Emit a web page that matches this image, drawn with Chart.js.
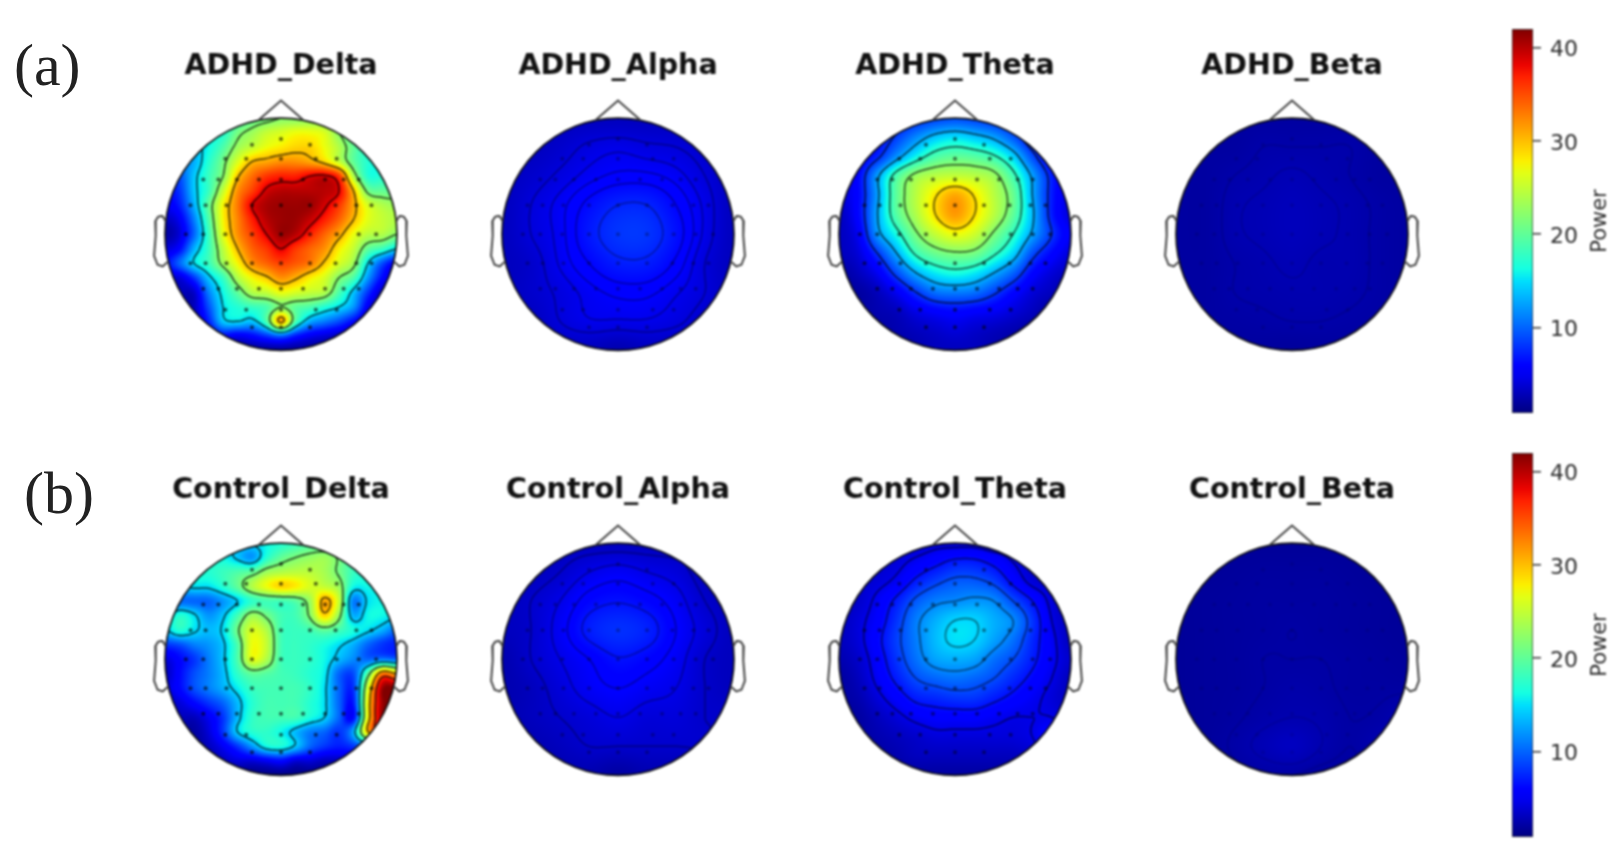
<!DOCTYPE html>
<html>
<head>
<meta charset="utf-8">
<title>Topographic maps</title>
<script src="https://cdn.jsdelivr.net/npm/chart.js@4"></script>
<style>
  html, body { margin: 0; padding: 0; background: #fff; overflow: hidden; }
  #page { position: relative; width: 1623px; height: 843px; }
  #page canvas { position: absolute; filter: blur(0.9px); }
  .tag { position: absolute; font-family: "Liberation Serif", serif; font-size: 60px; line-height: 66px; color: #222; filter: blur(0.6px); }
</style>
</head>
<body>
<div id="page">
  <div class="tag" style="left:14px;top:32px">(a)</div>
  <div class="tag" style="left:24px;top:460px">(b)</div>
</div>
<script>
// ===== DATA =====
const titles = [
  "ADHD_Delta", "ADHD_Alpha", "ADHD_Theta", "ADHD_Beta",
  "Control_Delta", "Control_Alpha", "Control_Theta", "Control_Beta",
];

const colorbarTicks = [10, 20, 30, 40];
const colorbarLabel = "Power";
const powerMin = 0.8;
const powerMax = 42;

// power, rows run front to back, columns left to right
const adhdDelta = [
  [16,16,16,17,17,18,20,21,22,22,22,21,20,19,18,18,18],
  [14,14,15,16,17,21,23,25,26,27,27,26,22,19,18,17,17],
  [12,13,14,16,19,23,25,27,28,29,29,27,24,20,17,17,17],
  [9,11,13,17,21,26,30,31,32,32,31,29,25,20,17,16,16],
  [7,9,14,18,22,29.5,33.5,36,37,37,38.5,39,36,24,17,17,17],
  [6,8,14,18,25,32,35.5,39,40,40,40,40,38.5,30,21,20,20],
  [5,7,13,20,27.5,33,38.5,40.5,41,41,41,39,36,31,26,24,23],
  [3,5,11,19,27.5,32.5,37,40,41,41,39.5,37,34,30,26.5,25,24],
  [2,4,10,18,26.5,32,35.5,38.5,41,40,37,34,31,27,24.5,24,22],
  [4,6,13,18,24.5,30,34,36,38.5,36,34,32,28,25,20,18,15],
  [6,10,15,18,23,27.5,32,34,35.5,34.5,33,29.5,26,23,15,9,5],
  [4,4,8,14,18,24,27.5,29.5,32,30.5,28,26,22,19,12,6,3],
  [3,3,3.5,11,16,20,24,25,27,26,25,24,19,14,8,3,2],
  [3,3,3,9,15,17,18,19,22,20,19,17,15,12,5,2,2],
  [3,3,3,7,14,15,14,19,31,19,13,11,9,6,3,2,2],
  [2,2,3,4,6,5,6,8,10,7,5,4,3,2,2,2,2],
  [1.5,1.5,1.5,1.5,1.5,1.5,1.5,1.5,1.5,1.5,1.5,1.5,1.5,1.5,1.5,1.5,1.5],
];
const controlDelta = [
  [15,15,15,15,15,15,15,16,17,18,19,19,18,18,17,17,17],
  [15,15,16,16,16,14,12,17,20,21.5,22.5,23,21,18,17,17,17],
  [15,16,17,17,18,19,20,23,24,24.5,24.5,23.5,21,18,17,17,17],
  [12,14,15,15,17,20,24,27,29,28,26,25,23,16,16,16,16],
  [8,10,10,10,12,14.5,17.5,18.5,18.5,19.5,23,31,25,11,15,16,16],
  [13,17,15,12,14,18.5,23,21,18.5,18.5,22,29,22.5,13,16,16,15],
  [14,17,15,13.5,15,21,26,24,18.5,18,18.5,20,18.5,16.5,15,13,10],
  [8,9,11,12,14,19,27,25,18.5,18,17.5,16.5,15,13,10,8,7],
  [4,6,8,11,14,19,26.5,24,18.5,18,17.5,16,13.5,11.5,10,11,10],
  [3,6,9,11,13.5,17.5,20,19.5,18.5,18,17,15.5,10,9,20,33,30],
  [4,6,9,11,13,15.5,18,18.5,18.5,18.5,17.5,15,10,8,26,41,42],
  [3,4,6,8,10,13.5,17,18.5,18.5,18.5,17,15,10,7,28,41,42],
  [3,3,3,5,8,13.5,17.5,18.5,18.5,18.5,16.5,14.5,10,6,28,41,41],
  [2,2,2,4,8,14.5,17,17.5,16,13.5,11,10,8,13,30,36,36],
  [2,2,2,3,5,8,12,16,16.5,14,10,8,7,8,10,10,10],
  [2,2,2,2,3,4,4,5,6,4,4,3,3,3,3,3,3],
  [1,1,1,1,1,1,1,1,1,1,1,1,1,1,1,1,1],
];
const adhdTheta = [
  [5,5,6,6.5,7.5,8.5,9,8.5,7.5,6.5,6,5,5],
  [4,5,6,8.5,11.5,14,15,14,12.5,9.5,6,5,4],
  [4,5,7.5,12,16,19,20,19.5,18,14.5,9,5,4],
  [4,6,12.5,19,23,24.5,25,24.5,23,18.5,12.5,7,4],
  [4,6,12.5,20,24.5,28.3,31,28.3,24.5,20.5,13,7,4],
  [3,6,13,19.5,24,28.5,31.5,28.5,24.5,20,13.5,7,4],
  [3,5,12,16.5,21.5,25,27,25.5,21.5,17.5,12.5,8,5],
  [3,4,8,13,18,20.5,21.5,21,18,14.5,9,6,4],
  [2,3,5,9,13,15.5,16.5,15.5,13,10,6,4,3],
  [2,2,3,5,8,10.5,11,10.5,8.5,6,4,3,2],
  [1.5,2,2.5,3,4.5,5.5,6,5.5,5,4,3,2,2],
  [1.5,1.5,2,2.5,3,3.5,4,3.5,3,2.5,2,2,1.5],
  [1.5,1.5,1.5,2,2.5,3,3,3,2.5,2,1.5,1.5,1.5],
];
const controlTheta = [
  [3,3,3,3.5,3.5,4,4,4,3.5,3.5,3,3,3],
  [3,3,3.5,4,5,6,7,7,6,4.5,3.5,3,3],
  [3,3.5,4,5,7,8.5,9.5,9.5,8.5,6,4,3.5,3],
  [3,3.5,5,7,9.5,11,11.5,12,11.5,9,6.5,4,3],
  [3,4,5.5,8,11,13,14.5,14.5,13,11.5,8,4.5,3],
  [3,4,6,8.5,11,13.5,15,14.5,12.5,10.5,7.5,5,3],
  [2.5,3.5,5.5,8,10.5,12.5,13,12.5,10.5,9,7,5,3.5],
  [2,3,5,7,9,10,10.5,10,9,7.5,6,4.5,3],
  [2,2.5,4,5.5,7,7.5,8,8,7,6,5,4,3],
  [1.5,2,3,4,5,5.5,5.5,5.5,5,4.5,4.5,4.5,3.5],
  [1.5,2,2.5,3,3.5,4,4,4,4,4,4.5,6,4],
  [1.5,1.5,2,2.5,3,3,3,3,3,3,3.5,5,4],
  [1.5,1.5,1.5,2,2,2,2,2,2,2,2,2,2],
];
const adhdAlpha = [
  [3,3,3,3,3,3,3,3,3],
  [3,3,3.5,4.2,4.5,4.2,4,3.5,3],
  [3,3.5,4.2,5,5.5,5.5,5,4,3],
  [3,4,5,6.3,7.3,7.3,6,4.5,3],
  [3,4,5,6.8,8,8,6.5,4.5,3],
  [3,3.5,4.8,6,7,7,5.8,4,3],
  [3,3.5,4.2,5,5.5,5.5,4.8,4,3],
  [3,3,4,4.6,4.6,4.6,4.2,3.5,3],
  [2.5,2.5,3,3,2.5,3,3,3,2.5],
];
const controlAlpha = [
  [3,3,3,3,3,3,3,3,3],
  [3,3,3.5,4.5,5,4.5,4,3,3],
  [3,3.5,4.5,6,6.5,6,5,3.5,3],
  [3,3.5,5,7,7.8,7.2,5.5,4,3],
  [2.5,3.5,4.5,5.5,6.5,6,5,3.5,3],
  [2.5,3,4,5,5.5,5,4.5,3.5,3],
  [2.5,3,3.5,4,4.5,4,4,3.5,3.5],
  [2,2.5,3,3.5,3.5,3.5,3.5,3.5,3],
  [2,2,2.5,2.5,2,2.5,2.5,2.5,2],
];
const adhdBeta = [
  [2,2,2,2,2,2,2,2,2],
  [2,2,2,2.3,2.3,2.3,2.3,2,2],
  [2,2,2.3,2.5,2.7,2.5,2.3,2,2],
  [2,2,2.5,2.7,2.9,2.7,2.5,2.2,2],
  [2,2,2.5,2.7,2.9,2.7,2.5,2.2,2],
  [2,2,2.3,2.5,2.7,2.5,2.5,2.2,2],
  [2,2,2.3,2.4,2.5,2.5,2.4,2.2,2],
  [1.8,2,2.1,2.2,2.3,2.3,2.2,2.1,2],
  [1.8,1.8,1.9,1.9,1.8,1.9,1.9,1.9,1.8],
];
const controlBeta = [
  [1.7,1.7,1.7,1.7,1.7,1.7,1.7,1.7,1.7],
  [1.7,1.7,1.8,1.9,1.9,1.9,1.8,1.7,1.7],
  [1.7,1.8,1.9,2,2,2,1.9,1.8,1.7],
  [1.7,1.8,1.9,2,2.1,2,1.9,1.8,1.7],
  [1.7,1.8,1.9,2.1,2.1,2.1,2,1.9,1.8],
  [1.7,1.8,1.9,2.1,2.3,2.2,2,2,2],
  [1.7,1.8,2,2.3,2.5,2.4,2.1,2.2,2.7],
  [1.7,1.8,2.2,2.7,3.1,2.5,2.1,2.5,2.5],
  [1.7,1.7,1.9,2.1,2.1,1.9,1.9,1.9,1.9],
];

const levels = [
  [15, 22, 30, 38.5],
  [4, 4.7, 5.3, 6, 7.3],
  [8, 13, 17.5, 22, 28.5],
  [2.3, 2.6],
  [14.5, 21.5, 30, 36],
  [3.5, 4.5, 5.5, 6.6],
  [4.5, 6.5, 9, 11.5, 14.5],
  [2.1, 2.5],
];

// electrode rows on the head, front to back
const electrodeRowY = [0.82, 0.77, 0.65, 0.47, 0.25, 0, -0.25, -0.47, -0.65, -0.8];
const electrodeRowX = [
  [0],
  [-0.25, 0.25],
  [-0.48, -0.3, 0, 0.3, 0.48],
  [-0.67, -0.54, -0.38, -0.19, 0, 0.19, 0.38, 0.54, 0.67],
  [-0.78, -0.65, -0.47, -0.25, 0, 0.25, 0.47, 0.65, 0.78],
  [-0.82, -0.67, -0.48, -0.25, 0, 0.25, 0.48, 0.67, 0.82],
  [-0.78, -0.65, -0.47, -0.25, 0, 0.25, 0.47, 0.65, 0.78],
  [-0.67, -0.54, -0.38, -0.19, 0, 0.19, 0.38, 0.54, 0.67],
  [-0.48, -0.3, 0, 0.3, 0.48],
  [-0.25, 0, 0.25],
];

// head outline
const noseX = [-0.19, 0, 0.19];
const noseY = [0.985, 1.15, 0.985];
const earX = [0.994, 1.02, 1.036, 1.06, 1.084, 1.08, 1.094, 1.064, 1.02, 0.978];
const earY = [0.111, 0.155, 0.157, 0.149, 0.111, -0.011, -0.186, -0.263, -0.277, -0.24];

const grids = [adhdDelta, adhdAlpha, adhdTheta, adhdBeta, controlDelta, controlAlpha, controlTheta, controlBeta];

// ===== COLOURS =====
const jetR = [[0, 0], [0.35, 0], [0.66, 1], [0.89, 1], [1, 0.5]];
const jetG = [[0, 0], [0.125, 0], [0.375, 1], [0.64, 1], [0.91, 0], [1, 0]];
const jetB = [[0, 0.5], [0.11, 1], [0.34, 1], [0.65, 0], [1, 0]];
const contourAlpha = [0.75, 0.35, 0.7, 0.15, 0.75, 0.35, 0.55, 0.12];

function channel(stops, t) {
  for (let i = 1; i < stops.length; i++) {
    if (t <= stops[i][0]) {
      const f = (t - stops[i - 1][0]) / (stops[i][0] - stops[i - 1][0]);
      return stops[i - 1][1] + f * (stops[i][1] - stops[i - 1][1]);
    }
  }
  return stops[stops.length - 1][1];
}

function jet(t) {
  t = Math.max(0, Math.min(1, t));
  return [channel(jetR, t) * 255, channel(jetG, t) * 255, channel(jetB, t) * 255];
}

// ===== FIELD =====
function cubic(a, b, c, d, t) {
  return b + 0.5 * t * (c - a + t * (2 * a - 5 * b + 4 * c - d + t * (3 * (b - c) + d - a)));
}

function sampleGrid(grid, x, y) {
  const n = grid.length - 1;
  const gx = Math.max(0, Math.min(n - 1e-6, ((x + 1) / 2) * n));
  const gy = Math.max(0, Math.min(n - 1e-6, ((1 - y) / 2) * n));
  const ix = Math.floor(gx);
  const iy = Math.floor(gy);
  const rows = [];
  for (let j = -1; j <= 2; j++) {
    const row = grid[Math.max(0, Math.min(n, iy + j))];
    const at = (k) => row[Math.max(0, Math.min(n, ix + k))];
    rows.push(cubic(at(-1), at(0), at(1), at(2), gx - ix));
  }
  return cubic(rows[0], rows[1], rows[2], rows[3], gy - iy);
}

function drawContours(ctx, field, w, h, left, top, level) {
  ctx.beginPath();
  for (let j = 0; j < h - 1; j++) {
    for (let i = 0; i < w - 1; i++) {
      const a = field[j * w + i];
      const b = field[j * w + i + 1];
      const c = field[(j + 1) * w + i + 1];
      const d = field[(j + 1) * w + i];
      const pts = [];
      if (a < level !== b < level) pts.push([i + (level - a) / (b - a), j]);
      if (b < level !== c < level) pts.push([i + 1, j + (level - b) / (c - b)]);
      if (d < level !== c < level) pts.push([i + (level - d) / (c - d), j + 1]);
      if (a < level !== d < level) pts.push([i, j + (level - a) / (d - a)]);
      for (let k = 0; k + 1 < pts.length; k += 2) {
        ctx.moveTo(left + pts[k][0] + 0.5, top + pts[k][1] + 0.5);
        ctx.lineTo(left + pts[k + 1][0] + 0.5, top + pts[k + 1][1] + 0.5);
      }
    }
  }
  ctx.stroke();
}

function topoPlugin(grid, panelLevels, lineAlpha) {
  return {
    id: "topo",
    beforeDatasetsDraw(chart) {
      const ctx = chart.ctx;
      const xs = chart.scales.x;
      const ys = chart.scales.y;
      const left = Math.floor(xs.getPixelForValue(-1.02));
      const top = Math.floor(ys.getPixelForValue(1.02));
      const w = Math.ceil(xs.getPixelForValue(1.02)) - left;
      const h = Math.ceil(ys.getPixelForValue(-1.02)) - top;

      const field = new Float32Array(w * h);
      const img = ctx.createImageData(w, h);
      for (let j = 0; j < h; j++) {
        const y = ys.getValueForPixel(top + j + 0.5);
        for (let i = 0; i < w; i++) {
          const x = xs.getValueForPixel(left + i + 0.5);
          const v = Math.max(powerMin, Math.min(powerMax, sampleGrid(grid, x, y)));
          field[j * w + i] = v;
          const rgb = jet((v - powerMin) / (powerMax - powerMin));
          const o = (j * w + i) * 4;
          img.data[o] = rgb[0];
          img.data[o + 1] = rgb[1];
          img.data[o + 2] = rgb[2];
          img.data[o + 3] = 255;
        }
      }
      const buffer = document.createElement("canvas");
      buffer.width = w;
      buffer.height = h;
      buffer.getContext("2d").putImageData(img, 0, 0);

      const cx = xs.getPixelForValue(0);
      const cy = ys.getPixelForValue(0);
      const rx = xs.getPixelForValue(1) - cx;
      const ry = cy - ys.getPixelForValue(1);

      ctx.save();
      ctx.beginPath();
      ctx.ellipse(cx, cy, rx, ry, 0, 0, Math.PI * 2);
      ctx.clip();
      ctx.drawImage(buffer, left, top);
      ctx.strokeStyle = `rgba(0,0,0,${lineAlpha})`;
      ctx.lineWidth = 1.5;
      panelLevels.forEach((level) => drawContours(ctx, field, w, h, left, top, level));
      ctx.restore();

      ctx.beginPath();
      ctx.ellipse(cx, cy, rx, ry, 0, 0, Math.PI * 2);
      ctx.strokeStyle = "#111";
      ctx.lineWidth = 1.7;
      ctx.stroke();
    },
  };
}

// ===== PANELS =====
const page = document.getElementById("page");
const columnX = [281, 617.5, 954.5, 1292];
const rowY = [234, 658.5];
const unitPx = 116;
const titleFont = { family: "'DejaVu Sans'", size: 28.5, weight: "bold", lineHeight: 1 };

function addCanvas(left, top, width, height) {
  const canvas = document.createElement("canvas");
  canvas.width = width;
  canvas.height = height;
  canvas.style.left = left + "px";
  canvas.style.top = top + "px";
  canvas.style.width = width + "px";
  canvas.style.height = height + "px";
  page.appendChild(canvas);
  return canvas;
}

const electrodes = [];
electrodeRowY.forEach((y, r) => electrodeRowX[r].forEach((x) => electrodes.push({ x: x, y: y })));

const outlineStyle = { showLine: true, pointRadius: 0, borderColor: "#444", borderWidth: 2, tension: 0 };
const nose = noseX.map((x, i) => ({ x: x, y: noseY[i] }));
const rightEar = earX.map((x, i) => ({ x: x, y: earY[i] }));
const leftEar = earX.map((x, i) => ({ x: -x, y: earY[i] }));

function renderPanel(index) {
  const row = Math.floor(index / 4);
  const cx = columnX[index % 4];
  const cy = rowY[row];
  const width = Math.round(2.5 * unitPx);
  const canvas = addCanvas(Math.round(cx - width / 2), Math.round(cy - 204), width, 332);

  new Chart(canvas, {
    type: "scatter",
    data: {
      datasets: [
        {
          data: electrodes,
          pointRadius: 2,
          pointBackgroundColor: `rgba(0,0,0,${contourAlpha[index] * 0.8})`,
          pointBorderWidth: 0,
          showLine: false,
        },
        Object.assign({ data: nose }, outlineStyle),
        Object.assign({ data: rightEar }, outlineStyle),
        Object.assign({ data: leftEar }, outlineStyle),
      ],
    },
    options: {
      responsive: false,
      animation: false,
      events: [],
      layout: { autoPadding: false, padding: 0 },
      plugins: {
        legend: { display: false },
        tooltip: { enabled: false },
        title: {
          display: true,
          text: titles[index],
          color: "#111",
          font: titleFont,
          padding: row === 0 ? { top: 22, bottom: 8.5 } : { top: 21, bottom: 9.5 },
        },
      },
      scales: {
        x: { type: "linear", min: -1.25, max: 1.25, display: false },
        y: { type: "linear", min: -1.1, max: 1.25, display: false },
      },
    },
    plugins: [topoPlugin(grids[index], levels[index], contourAlpha[index])],
  });
}

// ===== COLORBARS =====
// matplotlib turns this label the other way round from the Chart.js axis title
const colorbarLabelPlugin = {
  id: "colorbarLabel",
  afterDraw(chart) {
    const ctx = chart.ctx;
    const area = chart.chartArea;
    ctx.save();
    ctx.translate(89, (area.top + area.bottom) / 2);
    ctx.rotate(-Math.PI / 2);
    ctx.font = "21px 'DejaVu Sans'";
    ctx.fillStyle = "#2a2a2a";
    ctx.textAlign = "center";
    ctx.textBaseline = "middle";
    ctx.fillText(colorbarLabel, 0, 0);
    ctx.restore();
  },
};

function renderColorbar(top) {
  const canvas = addCanvas(1512, top - 5, 103, 394);
  new Chart(canvas, {
    type: "bar",
    data: {
      labels: [colorbarLabel],
      datasets: [
        {
          data: [[powerMin, powerMax]],
          barPercentage: 1,
          categoryPercentage: 1,
          borderColor: "#333",
          borderWidth: 1,
          borderSkipped: false,
          backgroundColor: (context) => {
            const area = context.chart.chartArea;
            if (!area) return "#00f";
            const g = context.chart.ctx.createLinearGradient(0, area.bottom, 0, area.top);
            for (let i = 0; i <= 32; i++) {
              const rgb = jet(i / 32);
              g.addColorStop(i / 32, `rgb(${rgb[0]}, ${rgb[1]}, ${rgb[2]})`);
            }
            return g;
          },
        },
      ],
    },
    options: {
      responsive: false,
      animation: false,
      events: [],
      layout: { autoPadding: false, padding: { top: 5, bottom: 5 } },
      plugins: { legend: { display: false }, tooltip: { enabled: false } },
      scales: {
        x: { display: false },
        y: {
          position: "right",
          min: powerMin,
          max: powerMax,
          afterFit: (scale) => {
            scale.width = 82;
            scale.paddingTop = 0;
            scale.paddingBottom = 0;
          },
          afterBuildTicks: (scale) => {
            scale.ticks = colorbarTicks.map((v) => ({ value: v }));
          },
          border: { display: false },
          grid: { drawOnChartArea: false, tickLength: 8, color: "#333", lineWidth: 1.5 },
          ticks: { color: "#2a2a2a", padding: 9, labelOffset: 3, font: { family: "'DejaVu Sans'", size: 22 } },
        },
      },
    },
    plugins: [colorbarLabelPlugin],
  });
}

titles.forEach((title, i) => renderPanel(i));
renderColorbar(29);
renderColorbar(453);
</script>
</body>
</html>
